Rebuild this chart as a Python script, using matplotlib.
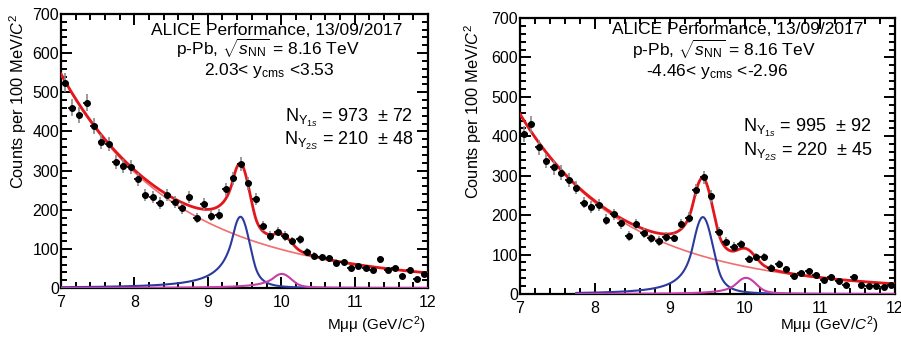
import numpy as np
import matplotlib
matplotlib.use("Agg")
import matplotlib.pyplot as plt
from matplotlib.ticker import MultipleLocator

plt.rcParams['font.family'] = ['Liberation Sans', 'DejaVu Sans']
plt.rcParams['mathtext.fontset'] = 'custom'
plt.rcParams['mathtext.rm'] = 'Liberation Sans'
plt.rcParams['mathtext.it'] = 'Liberation Sans:italic'
plt.rcParams['mathtext.bf'] = 'Liberation Sans:bold'

# bin centres (0.1 GeV bins)
mass_bins = [7.05, 7.15, 7.25, 7.35, 7.45, 7.55, 7.65, 7.75, 7.85, 7.95,
             8.05, 8.15, 8.25, 8.35, 8.45, 8.55, 8.65, 8.75, 8.85, 8.95,
             9.05, 9.15, 9.25, 9.35, 9.45, 9.55, 9.65, 9.75, 9.85, 9.95,
             10.05, 10.15, 10.25, 10.35, 10.45, 10.55, 10.65, 10.75, 10.85, 10.95,
             11.05, 11.15, 11.25, 11.35, 11.45, 11.55, 11.65, 11.75, 11.85, 11.95]

# forward rapidity (2.03 < y < 3.53)
counts_fwd = [525, 461, 442, 473, 414, 374, 368, 323, 312, 310,
              278, 238, 233, 218, 238, 220, 204, 233, 178, 215,
              184, 187, 252, 280, 317, 267, 227, 158, 133, 144,
              133, 120, 124, 93, 82, 78, 76, 65, 67, 52,
              56, 50, 46, 74, 46, 50, 31, 46, 22, 37]
err_fwd = [23, 21, 21, 22, 20, 19, 19, 18, 18, 18,
           17, 15, 15, 15, 15, 15, 14, 15, 13, 15,
           14, 14, 16, 17, 18, 16, 15, 13, 12, 12,
           12, 11, 11, 10, 9, 9, 9, 8, 8, 7,
           7, 7, 7, 9, 7, 7, 6, 7, 5, 6]

# backward rapidity (-4.46 < y < -2.96)
counts_bwd = [405, 430, 372, 337, 321, 308, 289, 270, 232, 220,
              226, 188, 202, 179, 147, 177, 155, 141, 135, 145,
              143, 177, 194, 264, 296, 248, 158, 133, 120, 127,
              89, 95, 93, 67, 76, 63, 46, 52, 58, 48,
              35, 44, 34, 23, 44, 23, 20, 20, 17, 24]
err_bwd = [20, 21, 19, 18, 18, 18, 17, 16, 15, 15,
           15, 14, 14, 13, 12, 13, 12, 12, 12, 12,
           12, 13, 14, 16, 17, 16, 13, 12, 11, 11,
           9, 10, 10, 8, 9, 8, 7, 7, 8, 7,
           6, 7, 6, 5, 7, 5, 4, 4, 4, 5]

# fit parameters
# background: exp(p0 + p1*(m-7) + p2*(m-7)^2)
bkg_fwd = [6.30, -0.63, 0.020]
bkg_bwd = [6.12, -0.70, 0.025]
# double crystal ball: height, mean, sigma, alphaL, nL, alphaR, nR
ups1s_fwd = [182, 9.445, 0.130, 0.8, 2.0, 1.5, 3.0]
ups2s_fwd = [36, 10.007, 0.135, 0.8, 2.0, 1.5, 3.0]
ups1s_bwd = [195, 9.438, 0.138, 1.0, 2.0, 1.5, 3.0]
ups2s_bwd = [41, 10.013, 0.138, 1.0, 2.0, 1.5, 3.0]

header_fwd = ['ALICE Performance, 13/09/2017',
              r'p-Pb, $\sqrt{s_{\rm NN}}$ = 8.16 TeV',
              r'2.03< y$_{\rm cms}$ <3.53']
header_bwd = ['ALICE Performance, 13/09/2017',
              r'p-Pb, $\sqrt{s_{\rm NN}}$ = 8.16 TeV',
              r'-4.46< y$_{\rm cms}$ <-2.96']
yields_fwd = [r'N$_{\Upsilon_{1s}}$ = 973  ± 72', r'N$_{\Upsilon_{2S}}$ = 210  ± 48']
yields_bwd = [r'N$_{\Upsilon_{1s}}$ = 995  ± 92', r'N$_{\Upsilon_{2S}}$ = 220  ± 45']


def background(m, p):
    t = m - 7.0
    return np.exp(p[0] + p[1] * t + p[2] * t ** 2)


def crystal_ball(m, p):
    h, mu, sig, aL, nL, aR, nR = p
    t = (m - mu) / sig
    y = np.exp(-0.5 * t ** 2)
    lo = t < -aL
    AL = (nL / aL) ** nL * np.exp(-0.5 * aL ** 2)
    y[lo] = AL * (nL / aL - aL - t[lo]) ** (-nL)
    hi = t > aR
    AR = (nR / aR) ** nR * np.exp(-0.5 * aR ** 2)
    y[hi] = AR * (nR / aR - aR + t[hi]) ** (-nR)
    return h * y


def draw_panel(ax, counts, errs, bkg, s1, s2, sig_start, header, hpos, yields, ypos):
    m = np.linspace(7.0, 12.0, 600)
    ms = np.linspace(sig_start, 12.0, 600)
    b = background(m, bkg)
    total = b + crystal_ball(m, s1) + crystal_ball(m, s2)

    ax.plot(m, b, color='#f26d6d', lw=1.2, zorder=3)
    ax.plot(ms, crystal_ball(ms, s1), color='#2b3a9e', lw=1.5, zorder=3)
    ax.plot(ms, crystal_ball(ms, s2), color='#c43fa8', lw=1.5, zorder=3)
    ax.plot(m, total, color='#e3161c', lw=2.0, zorder=4)

    ax.errorbar(mass_bins, counts, yerr=errs, fmt='none', ecolor='#8a8a8a',
                elinewidth=1.2, capsize=0, zorder=5)
    ax.errorbar(mass_bins, counts, xerr=0.05, fmt='o', color='black',
                ms=4, elinewidth=1.2, capsize=0, zorder=6)

    ax.set_xlim(7, 12)
    ax.set_ylim(0, 700)
    ax.xaxis.set_major_locator(MultipleLocator(1))
    ax.xaxis.set_minor_locator(MultipleLocator(0.2))
    ax.yaxis.set_major_locator(MultipleLocator(100))
    ax.yaxis.set_minor_locator(MultipleLocator(20))
    ax.tick_params(which='both', direction='in', top=True, right=True,
                   width=1.4, labelsize=11.5)
    ax.tick_params(which='major', length=8)
    ax.tick_params(which='minor', length=4)
    ax.tick_params(axis='x', pad=5)
    ax.tick_params(axis='y', pad=1.5)
    for sp in ax.spines.values():
        sp.set_linewidth(1.6)

    for txt, (x, y) in zip(header, hpos):
        ax.text(x, y, txt, transform=ax.transAxes, ha='center', va='baseline',
                fontsize=12.5)
    for txt, (x, y) in zip(yields, ypos):
        ax.text(x, y, txt, transform=ax.transAxes, ha='center', va='baseline',
                fontsize=13)


W, H = 901, 338
fig = plt.figure(figsize=(W / 100, H / 100), dpi=100)
ax1 = fig.add_axes([61 / W, 1 - 288 / H, 367 / W, 274 / H])
ax2 = fig.add_axes([520 / W, 1 - 294 / H, 375 / W, 276 / H])

draw_panel(ax1, counts_fwd, err_fwd, bkg_fwd, ups1s_fwd, ups2s_fwd, 7.0,
           header_fwd, [(0.589, 0.925), (0.564, 0.852), (0.567, 0.778)],
           yields_fwd, [(0.786, 0.607), (0.786, 0.522)])
draw_panel(ax2, counts_bwd, err_bwd, bkg_bwd, ups1s_bwd, ups2s_bwd, 7.75,
           header_bwd, [(0.580, 0.943), (0.544, 0.862), (0.524, 0.790)],
           yields_bwd, [(0.767, 0.589), (0.767, 0.499)])

ylab = r'Counts per 100 MeV/$C^2$'
xlab = r'Mμμ (GeV/$C^2$)'
fig.text(18 / W, 1 - 13 / H, ylab, rotation=90, ha='center', va='top', fontsize=11.8)
fig.text(473 / W, 1 - 23 / H, ylab, rotation=90, ha='center', va='top', fontsize=11.8)
fig.text(426 / W, 1 - 325 / H, xlab, ha='right', va='center', fontsize=11)
fig.text(879 / W, 1 - 325 / H, xlab, ha='right', va='center', fontsize=11)

fig.savefig('out.png', dpi=100)
